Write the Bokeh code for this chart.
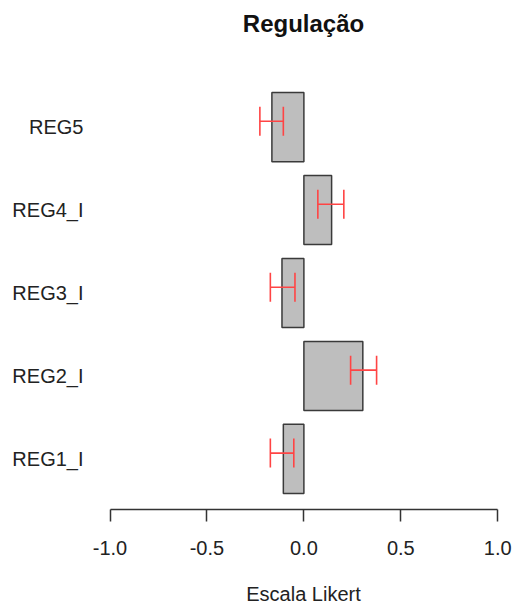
from bokeh.plotting import figure
from bokeh.models import (ColumnDataSource, FactorRange, FixedTicker, PrintfTickFormatter,
                          Whisker, TeeHead, Title)
from bokeh.transform import dodge
from bokeh.embed import file_html
from bokeh.resources import INLINE

title_text = "Regulação"
categories = ["REG1_I", "REG2_I", "REG3_I", "REG4_I", "REG5"]
means = [-0.106, 0.304, -0.113, 0.143, -0.165]
lower = [-0.173, 0.241, -0.173, 0.072, -0.227]
upper = [-0.052, 0.375, -0.046, 0.206, -0.106]
x_ticks = [-1.0, -0.5, 0.0, 0.5, 1.0]

source = ColumnDataSource(data=dict(cat=categories, mean=means, lo=lower, hi=upper))

FONT = "Liberation Sans"

p = figure(width=512, height=607, output_backend="svg", toolbar_location=None,
           y_range=FactorRange(factors=categories, range_padding=0.11,
                               range_padding_units="absolute"),
           x_range=(-1.08, 1.076),
           title=title_text, x_axis_label="Escala Likert")

p.min_border_left = 94
p.min_border_right = 0
p.min_border_top = 76
p.min_border_bottom = 0
p.outline_line_color = None
p.background_fill_color = "white"
p.border_fill_color = "white"
p.xgrid.visible = False
p.ygrid.visible = False

# empty spacer between the plot region and the title
p.add_layout(Title(text=" ", text_font_size="1px", standoff=37), "above")

p.title.align = "center"
p.title.text_font = FONT
p.title.text_font_size = "24px"
p.title.text_font_style = "bold"
p.title.text_color = "#111111"
p.title.standoff = 0

p.hbar(y="cat", left=0, right="mean", height=1 / 1.2, source=source,
       fill_color="#bebebe", line_color="#3a3a3a", line_width=1.5)

whisk = Whisker(source=source, base=dodge("cat", 0.07, range=p.y_range),
                lower="lo", upper="hi", dimension="width", level="overlay",
                line_color="#ff4444", line_width=1.6,
                upper_head=TeeHead(size=29, line_color="#ff4444", line_width=1.6),
                lower_head=TeeHead(size=29, line_color="#ff4444", line_width=1.6))
p.add_layout(whisk)

xa = p.xaxis[0]
xa.ticker = FixedTicker(ticks=x_ticks)
xa.formatter = PrintfTickFormatter(format="%.1f")
xa.bounds = (-1.0, 1.0)
xa.axis_line_color = "#333333"
xa.axis_line_width = 1.5
xa.major_tick_line_color = "#333333"
xa.major_tick_line_width = 1.5
xa.major_tick_in = 0
xa.major_tick_out = 12
xa.minor_tick_line_color = None
xa.major_label_text_font = FONT
xa.major_label_text_font_size = "20px"
xa.major_label_text_color = "#222222"
xa.major_label_standoff = 19
xa.axis_label_text_font = FONT
xa.axis_label_text_font_size = "20px"
xa.axis_label_text_font_style = "normal"
xa.axis_label_text_color = "#222222"
xa.axis_label_standoff = 25

ya = p.yaxis[0]
ya.axis_line_color = None
ya.major_tick_line_color = None
ya.minor_tick_line_color = None
ya.major_label_text_font = FONT
ya.major_label_text_font_size = "20px"
ya.major_label_text_color = "#222222"
ya.major_label_standoff = 5

open("out.html", "w").write(file_html(p, INLINE))
